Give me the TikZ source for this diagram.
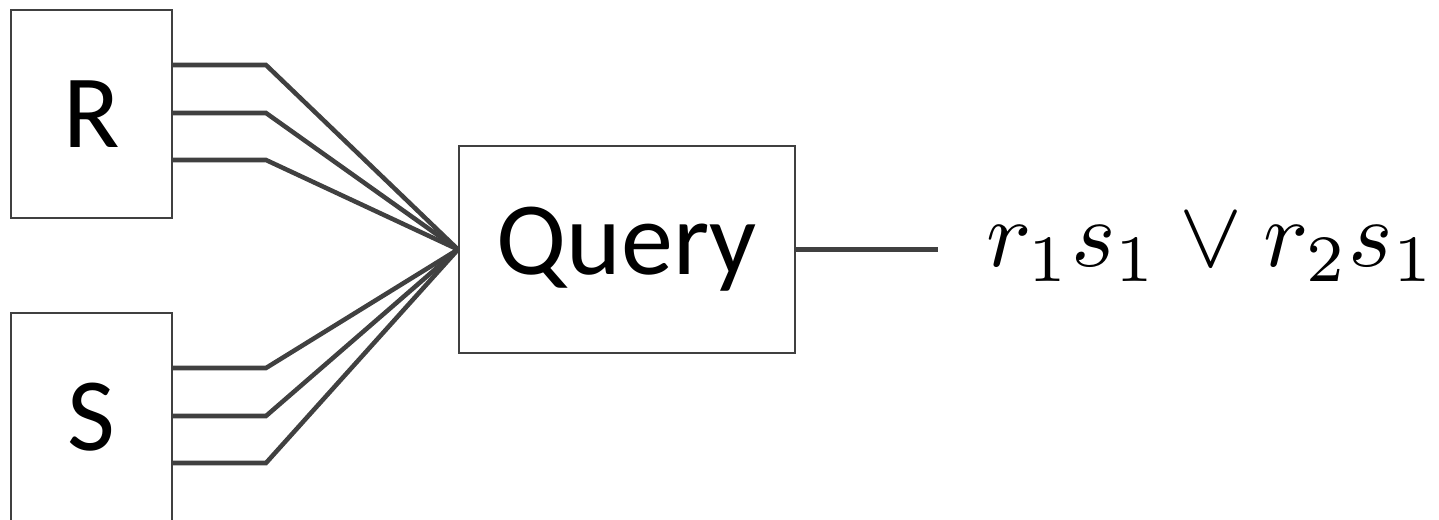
\documentclass[tikz,border=0pt]{standalone}
\usepackage{fix-cm}
\usepackage{fontspec}
\setmainfont{Carlito}
\begin{document}
\begin{tikzpicture}[x=0.75pt,y=-0.75pt,
  box/.style={draw=black!75,line width=1.5pt,inner sep=0pt,font=\fontsize{78}{90}\selectfont},
  wire/.style={draw=black!75,line width=3.4pt}]
\useasboundingbox (0,0) rectangle (1439,520);
\clip (0,0) rectangle (1439,520);
\node[box,minimum width=161*0.75pt,minimum height=208*0.75pt] (R) at (91.5,114) {R};
\node[box,minimum width=161*0.75pt,minimum height=208*0.75pt] (S) at (91.5,417) {S};
\node[box,minimum width=336*0.75pt,minimum height=207*0.75pt] (Q) at (627,249.5) {Query};
\coordinate (r1) at (266,65);
\coordinate (r2) at (266,113);
\coordinate (r3) at (266,160);
\coordinate (s1) at (266,368);
\coordinate (s2) at (266,416);
\coordinate (s3) at (266,463);
\coordinate (out) at (938,249.5);
\foreach \c in {r1,r2,r3}{
  \draw[wire] (R.east |- \c) -- (\c) -- (Q.west);
}
\foreach \c in {s1,s2,s3}{
  \draw[wire] (S.east |- \c) -- (\c) -- (Q.west);
}
\draw[wire] (Q.east) -- (out);
\node[anchor=base west,inner sep=0pt] (f) at (986,267) {\scalebox{7.1}{$r_1s_1\vee r_2s_1$}};
\end{tikzpicture}
\end{document}
